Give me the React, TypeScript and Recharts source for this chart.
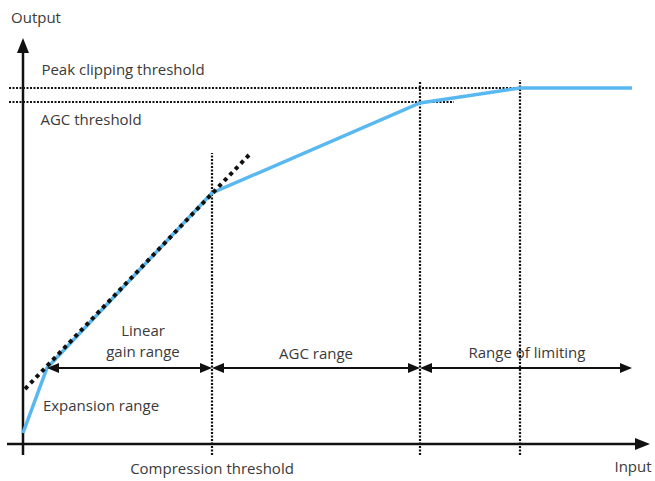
import React from "react";
import { LineChart, Line, XAxis, YAxis, ReferenceLine, ReferenceDot } from "recharts";

// input / output curve of the hearing aid (arbitrary units)
const curveInput = [0, 24, 189, 397, 497, 609];
const curveOutput = [11, 76, 251, 341, 356, 356];

// thresholds
const expansionKnee = 24;
const compressionThreshold = 189;
const agcThresholdIn = 397;
const peakClipIn = 497;
const inputEnd = 609;
const agcThresholdOut = 342;
const peakClipOut = 356;

// dotted extension of the linear gain part
const linearExtX = [2, 226];
const linearExtY = [55, 289];

const rangeLevel = 76;

const curveData = curveInput.map((x, i) => ({ x, y: curveOutput[i] }));

const FONT = "'Open Sans', 'DejaVu Sans', sans-serif";
const TEXT = "#3a3a3a";
const BLUE = "#5ab8f0";

const arrowShape = (double: boolean, len: number, half: number, sw: number) => (props: any) => {
    const { x1, y1, x2, y2 } = props;
    const ang = Math.atan2(y2 - y1, x2 - x1);
    const c = Math.cos(ang);
    const s = Math.sin(ang);
    const head = (tx: number, ty: number, dir: number) => {
        const bx = tx - dir * c * len;
        const by = ty - dir * s * len;
        return `${tx},${ty} ${bx - s * half},${by + c * half} ${bx + s * half},${by - c * half}`;
    };
    const sx = double ? x1 + c * (len - 2) : x1;
    const sy = double ? y1 + s * (len - 2) : y1;
    return (
        <g>
            <line x1={sx} y1={sy} x2={x2 - c * (len - 2)} y2={y2 - s * (len - 2)} stroke="#111" strokeWidth={sw} />
            <polygon points={head(x2, y2, 1)} fill="#111" />
            {double && <polygon points={head(x1, y1, -1)} fill="#111" />}
        </g>
    );
};

const lbl = (value: string) => ({
    value,
    position: "center" as const,
    fill: TEXT,
    fontSize: 15,
    fontFamily: FONT,
});

const App: React.FC = () => {
    return (
        <div style={{ position: "absolute", left: 0, top: 0, background: "#fff" }}>
            <LineChart
                width={655}
                height={481}
                data={curveData}
                margin={{ top: 0, right: 0, left: 0, bottom: 0 }}
            >
                <XAxis type="number" dataKey="x" domain={[-23, 632]} hide={true} />
                <YAxis type="number" domain={[-37, 444]} hide={true} />

                {/* threshold guides */}
                <ReferenceLine segment={[{ x: -14, y: peakClipOut }, { x: peakClipIn, y: peakClipOut }]} stroke="#111" strokeWidth={2.2} strokeDasharray="2 1.5" />
                <ReferenceLine segment={[{ x: -14, y: agcThresholdOut }, { x: 431, y: agcThresholdOut }]} stroke="#111" strokeWidth={2.2} strokeDasharray="2 1.5" />
                <ReferenceLine segment={[{ x: compressionThreshold, y: -11 }, { x: compressionThreshold, y: 291 }]} stroke="#111" strokeWidth={2.2} strokeDasharray="2 1.5" />
                <ReferenceLine segment={[{ x: agcThresholdIn, y: -11 }, { x: agcThresholdIn, y: 362 }]} stroke="#111" strokeWidth={2.2} strokeDasharray="2 1.5" />
                <ReferenceLine segment={[{ x: peakClipIn, y: -11 }, { x: peakClipIn, y: 364 }]} stroke="#111" strokeWidth={2.2} strokeDasharray="2 1.5" />

                {/* axes */}
                <ReferenceLine segment={[{ x: -16, y: 0 }, { x: 627, y: 0 }]} shape={arrowShape(false, 15, 6, 2.5)} />
                <ReferenceLine segment={[{ x: 0, y: -11 }, { x: 0, y: 406 }]} shape={arrowShape(false, 15, 6, 2.5)} />

                <Line
                    type="linear"
                    dataKey="y"
                    stroke={BLUE}
                    strokeWidth={3.5}
                    dot={false}
                    activeDot={false}
                    isAnimationActive={false}
                />

                <ReferenceLine
                    segment={[{ x: linearExtX[0], y: linearExtY[0] }, { x: linearExtX[1], y: linearExtY[1] }]}
                    stroke="#111"
                    strokeWidth={4}
                    strokeDasharray="4 4"
                />

                {/* range arrows */}
                <ReferenceLine segment={[{ x: expansionKnee, y: rangeLevel }, { x: compressionThreshold, y: rangeLevel }]} shape={arrowShape(true, 12, 5, 2)} />
                <ReferenceLine segment={[{ x: compressionThreshold, y: rangeLevel }, { x: agcThresholdIn, y: rangeLevel }]} shape={arrowShape(true, 12, 5, 2)} />
                <ReferenceLine segment={[{ x: agcThresholdIn, y: rangeLevel }, { x: inputEnd, y: rangeLevel }]} shape={arrowShape(true, 12, 5, 2)} />

                {/* labels */}
                <ReferenceDot x={13} y={426} r={0} fill="none" stroke="none" label={lbl("Output")} />
                <ReferenceDot x={100} y={374} r={0} fill="none" stroke="none" label={lbl("Peak clipping threshold")} />
                <ReferenceDot x={68} y={324} r={0} fill="none" stroke="none" label={lbl("AGC threshold")} />
                <ReferenceDot x={120} y={113} r={0} fill="none" stroke="none" label={lbl("Linear")} />
                <ReferenceDot x={120} y={92} r={0} fill="none" stroke="none" label={lbl("gain range")} />
                <ReferenceDot x={293} y={90} r={0} fill="none" stroke="none" label={lbl("AGC range")} />
                <ReferenceDot x={504} y={91} r={0} fill="none" stroke="none" label={lbl("Range of limiting")} />
                <ReferenceDot x={78} y={38} r={0} fill="none" stroke="none" label={lbl("Expansion range")} />
                <ReferenceDot x={189} y={-25} r={0} fill="none" stroke="none" label={lbl("Compression threshold")} />
                <ReferenceDot x={610} y={-23} r={0} fill="none" stroke="none" label={lbl("Input")} />
            </LineChart>
        </div>
    );
};

export default App;
